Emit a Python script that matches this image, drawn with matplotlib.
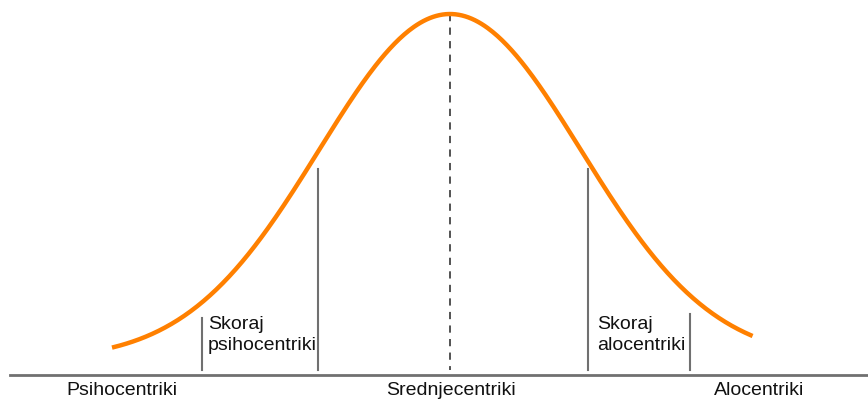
"""Bell curve of tourist types (psihocentriki / alocentriki)"""
import numpy as np
import matplotlib.pyplot as plt

plt.rcParams['font.family'] = ['Liberation Sans', 'DejaVu Sans']

# normal curve, x in standard deviations
curve_mean = 0.0
curve_sd = 1.0
curve_start = -2.58
curve_end = 2.31

# group boundaries (x) and how high the marker lines reach
boundary_x = [-1.893, -1.008, 1.053, 1.832]
boundary_top = [0.121, 0.552, 0.552, 0.133]

group_labels = ['Psihocentriki', 'Srednjecentriki', 'Alocentriki']
group_label_x = [-2.504, 0.008, 2.359]

near_labels = ['Skoraj\npsihocentriki', 'Skoraj\nalocentriki']
near_label_x = [-1.847, 1.124]

fig = plt.figure(figsize=(8.68, 4), dpi=100)
ax = fig.add_axes([0, 0, 1, 1])

x = np.linspace(curve_start, curve_end, 400)
y = np.exp(-0.5 * ((x - curve_mean) / curve_sd) ** 2)
ax.plot(x, y, color='#ff8000', lw=3.2, solid_capstyle='butt', zorder=3)

# centre line
ax.plot([curve_mean, curve_mean], [1.0, -0.029], color='#444444', lw=1.3,
        ls=(0, (4, 3.5)), zorder=2)

# boundary markers
for bx, bt in zip(boundary_x, boundary_top):
    ax.plot([bx, bx], [-0.029, bt], color='#707070', lw=1.5)

# base line
ax.plot([-3.359, 3.3], [-0.0434, -0.0434], color='#707070', lw=2)

for lab, lx in zip(group_labels, group_label_x):
    ax.text(lx, -0.101, lab, ha='center', va='baseline', fontsize=14, color='#111111')

for lab, lx in zip(near_labels, near_label_x):
    ax.text(lx, 0.126, lab, ha='left', va='top', fontsize=14,
            linespacing=1.25, color='#111111')

ax.set_xlim(-3.435, 3.191)
ax.set_ylim(-0.1156, 1.0405)
ax.axis('off')

fig.savefig('out.png', dpi=100)
